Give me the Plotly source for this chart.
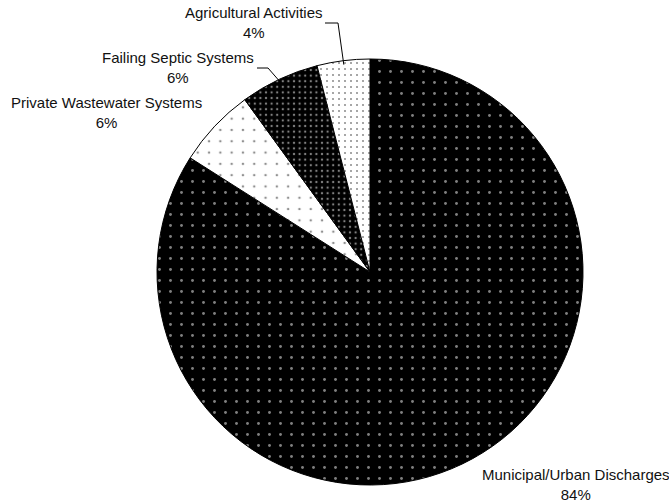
import math
import plotly.graph_objects as go

# Sources of loading (percent share)
sources = [
    "Municipal/Urban Discharges",
    "Private Wastewater Systems",
    "Failing Septic Systems",
    "Agricultural Activities",
]
shares = [84, 6, 6, 4]

W, H = 669, 504
CX, CY, R = 370, 272, 213  # pie centre / radius in pixels

# Fill patterns per slice
bg_colors = ["#000000", "#ffffff", "#000000", "#ffffff"]
fg_colors = ["#ffffff", "#222222", "#ffffff", "#222222"]
dot_sizes = [11, 11.3, 5.6, 6]
dot_solid = [0.055, 0.04, 0.14, 0.10]

fig = go.Figure(
    go.Pie(
        labels=sources,
        values=shares,
        sort=False,
        direction="clockwise",
        rotation=0,
        textinfo="none",
        hoverinfo="skip",
        showlegend=False,
        marker=dict(
            colors=bg_colors,
            line=dict(color="#000000", width=1),
            pattern=dict(
                shape=["."] * 4,
                bgcolor=bg_colors,
                fgcolor=fg_colors,
                size=dot_sizes,
                solidity=dot_solid,
                fillmode="overlay",
            ),
        ),
        domain=dict(
            x=[(CX - R) / W, (CX + R) / W],
            y=[(H - CY - R) / H, (H - CY + R) / H],
        ),
    )
)

# Label centres (pixels) and leader-line elbows
label_pos = {
    "Municipal/Urban Discharges": (576, 484),
    "Private Wastewater Systems": (106, 112),
    "Failing Septic Systems": (178, 68),
    "Agricultural Activities": (254, 23),
}
leaders = {
    "Failing Septic Systems": [(257, 68), (268, 68)],
    "Agricultural Activities": [(325, 23), (338, 23)],
}


def px(x):
    return x / W


def py(y):
    return 1 - y / H


total = sum(shares)
start = 0.0
for name, v in zip(sources, shares):
    frac = v / total
    mid = (start + frac / 2) * 2 * math.pi
    start += frac
    lx, ly = label_pos[name]
    fig.add_annotation(
        x=px(lx), y=py(ly), xref="paper", yref="paper",
        text=f"{name}<br>{v}%", showarrow=False,
        xanchor="center", yanchor="middle",
        font=dict(family="Liberation Sans, Arial", size=15, color="#111111"),
    )
    if name in leaders:
        pts = leaders[name]
        ex = CX + (R - 4) * math.sin(mid)
        ey = CY - (R - 4) * math.cos(mid)
        path_pts = pts + [(ex, ey)]
        d = "M " + " L ".join(f"{px(a)},{py(b)}" for a, b in path_pts)
        fig.add_shape(
            type="path", path=d, xref="paper", yref="paper",
            line=dict(color="#000000", width=1),
        )

fig.update_layout(
    width=W, height=H,
    margin=dict(l=0, r=0, t=0, b=0),
    paper_bgcolor="#ffffff",
    plot_bgcolor="#ffffff",
)

fig.write_html("out.html")
